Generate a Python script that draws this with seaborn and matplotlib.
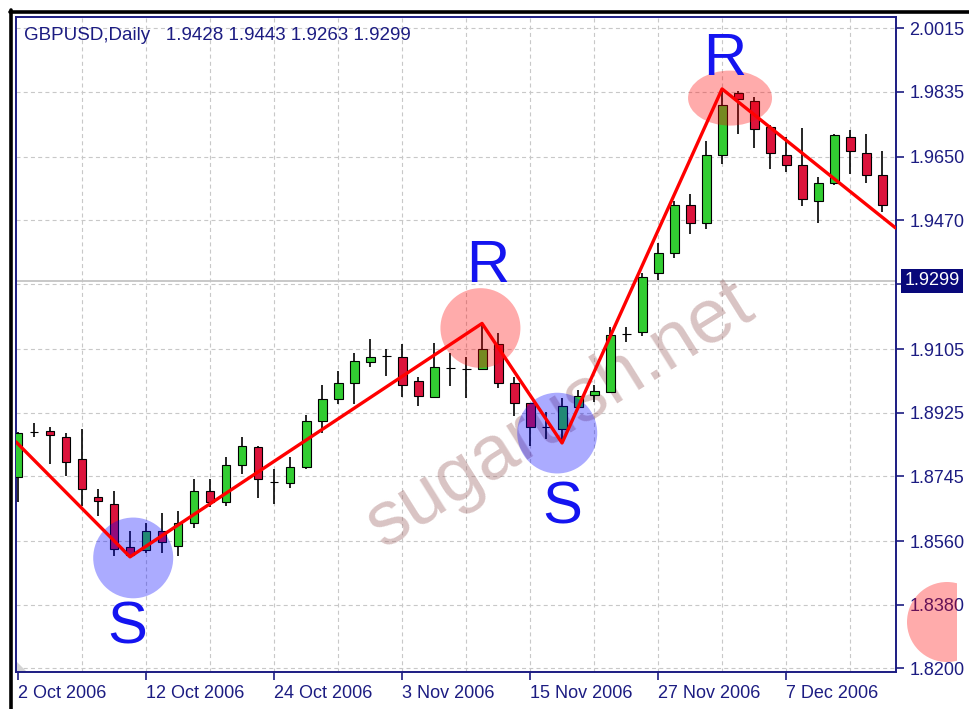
import matplotlib
matplotlib.use("Agg")
import numpy as np
import pandas as pd
import matplotlib.pyplot as plt
import matplotlib.transforms as mtransforms
from matplotlib.patches import Ellipse, Rectangle, Polygon
from matplotlib.lines import Line2D
import seaborn as sns

# --- DATA ---
symbol = "GBPUSD,Daily"
header_ohlc = ["1.9428", "1.9443", "1.9263", "1.9299"]
last_price = 1.9299

date_labels = ["2 Oct 2006", "12 Oct 2006", "24 Oct 2006", "3 Nov 2006",
               "15 Nov 2006", "27 Nov 2006", "7 Dec 2006"]
date_label_bars = [0, 8, 16, 24, 32, 40, 48]
grid_bars = [4, 8, 12, 16, 20, 24, 28, 32, 36, 40, 44, 48, 52]

price_ticks = [1.8200, 1.8380, 1.8560, 1.8745, 1.8925, 1.9105, 1.9290,
               1.9470, 1.9650, 1.9835, 2.0015]
price_labels = ["1.8200", "1.8380", "1.8560", "1.8745", "1.8925", "1.9105", "",
                "1.9470", "1.9650", "1.9835", "2.0015"]

opens = [1.8743, 1.8869, 1.8873, 1.8856, 1.8794, 1.8686, 1.8666, 1.8544, 1.8535, 1.8589,
         1.8547, 1.8612, 1.8703, 1.8672, 1.8777, 1.8828, 1.8727, 1.8726, 1.8771, 1.8901,
         1.8964, 1.9009, 1.9069, 1.9085, 1.9083, 1.9015, 1.8969, 1.9051, 1.9048, 1.9049,
         1.9120, 1.9009, 1.8952, 1.8883, 1.8879, 1.8941, 1.8975, 1.8984, 1.9147, 1.9154,
         1.9321, 1.9378, 1.9514, 1.9463, 1.9656, 1.9832, 1.9809, 1.9735, 1.9656, 1.9627,
         1.9525, 1.9576, 1.9707, 1.9661, 1.9599]
highs = [1.8870, 1.8896, 1.8884, 1.8867, 1.8879, 1.8708, 1.8703, 1.8589, 1.8612, 1.8640,
         1.8646, 1.8737, 1.8737, 1.8799, 1.8856, 1.8830, 1.8765, 1.8799, 1.8918, 1.9003,
         1.9043, 1.9094, 1.9134, 1.9106, 1.9120, 1.9026, 1.9123, 1.9094, 1.9083, 1.9178,
         1.9151, 1.9026, 1.8953, 1.8927, 1.8967, 1.8989, 1.9003, 1.9168, 1.9168, 1.9321,
         1.9406, 1.9525, 1.9545, 1.9695, 1.9843, 1.9837, 1.9820, 1.9741, 1.9707, 1.9732,
         1.9593, 1.9715, 1.9727, 1.9715, 1.9667]
lows = [1.8672, 1.8856, 1.8779, 1.8745, 1.8660, 1.8632, 1.8518, 1.8516, 1.8527, 1.8527,
        1.8518, 1.8598, 1.8657, 1.8660, 1.8751, 1.8683, 1.8666, 1.8711, 1.8765, 1.8867,
        1.8950, 1.8950, 1.9054, 1.9029, 1.8969, 1.8944, 1.8967, 1.9001, 1.8967, 1.9047,
        1.8995, 1.8916, 1.8830, 1.8850, 1.8839, 1.8940, 1.8955, 1.8981, 1.9125, 1.9142,
        1.9301, 1.9364, 1.9432, 1.9446, 1.9630, 1.9715, 1.9676, 1.9616, 1.9608, 1.9511,
        1.9463, 1.9571, 1.9602, 1.9576, 1.9494]
closes = [1.8867, 1.8871, 1.8862, 1.8785, 1.8708, 1.8674, 1.8538, 1.8521, 1.8589, 1.8558,
          1.8612, 1.8703, 1.8672, 1.8777, 1.8830, 1.8737, 1.8729, 1.8771, 1.8901, 1.8964,
          1.9009, 1.9071, 1.9083, 1.9087, 1.9003, 1.8972, 1.9054, 1.9053, 1.9050, 1.9106,
          1.9009, 1.8952, 1.8884, 1.8885, 1.8944, 1.8972, 1.8986, 1.9145, 1.9149, 1.9310,
          1.9378, 1.9514, 1.9463, 1.9656, 1.9797, 1.9815, 1.9729, 1.9661, 1.9627, 1.9531,
          1.9576, 1.9712, 1.9667, 1.9599, 1.9514]

# zigzag (support / resistance swings)
zigzag_bars = [-0.125, 7, 29, 34, 44, 54.84]
zigzag_prices = [1.8842, 1.8516, 1.9178, 1.8839, 1.9843, 1.9449]

# S / R markers
sr_letters = ["S", "R", "S", "R"]
sr_kind = ["support", "resistance", "support", "resistance"]
sr_bars = [7.2, 28.9, 33.7, 44.5]
sr_prices = [1.8513, 1.9165, 1.8867, 1.9817]

watermark = "sugarush.net"

# --- STYLE / LAYOUT ---
W, H = 970, 709
navy = "#1c1c82"
bull, bear = "#32CD32", "#DC143C"
circle_col = {"support": (0, 0, 1, 0.33), "resistance": (1, 0, 0, 0.33)}
circle_size = [(5.0, 0.0229), (5.0, 0.0226), (5.0, 0.0229), (5.25, 0.0156)]
letter_x = [6.84, 29.34, 34.03, 44.19]
letter_y = [1.8269, 1.9296, 1.8612, 1.9883]

sns.set_theme(style="white")
plt.rcParams["font.family"] = ["Liberation Sans", "DejaVu Sans"]

fig = plt.figure(figsize=(W / 100, H / 100), dpi=100, facecolor="white")
ax = fig.add_axes([16 / W, 37 / H, (895.5 - 16) / W, (672 - 16.5) / H])
ax.set_facecolor("white")

df = pd.DataFrame({"open": opens, "high": highs, "low": lows, "close": closes})
df["bar"] = np.arange(len(df))
df["bottom"] = df[["open", "close"]].min(axis=1)
df["height"] = (df["close"] - df["open"]).abs()
df["color"] = np.where(df["height"] < 0.0003, "black",
                       np.where(df["close"] > df["open"], bull, bear))

# grid
dash = (0, (3.6, 2.9))
for b in grid_bars:
    ax.axvline(b, color="#c8c8c8", lw=0.8, ls=dash, zorder=0.5)
for p in price_ticks:
    ax.axhline(p, color="#c8c8c8", lw=0.8, ls=dash, zorder=0.5)
ax.axhline(last_price, color="#c4c4c4", lw=1.3, zorder=0.6)

# watermark
ax.text(33.9, 1.8918, watermark, rotation=32, fontsize=55, color="#a06a6a",
        alpha=0.40, ha="center", va="center", rotation_mode="anchor", zorder=1.5)

# candles
ax.vlines(df["bar"], df["low"], df["high"], color="black", lw=1.2, zorder=2)
ax.bar(df["bar"], df["height"].clip(lower=0.0002), bottom=df["bottom"], width=0.56,
       color=df["color"], edgecolor="black", linewidth=0.8, zorder=3)

# circles
for (b, p, k), (w, h) in zip(zip(sr_bars, sr_prices, sr_kind), circle_size):
    ax.add_patch(Ellipse((b, p), w, h, facecolor=circle_col[k], edgecolor="none", zorder=4))

# zigzag
sns.lineplot(x=zigzag_bars, y=zigzag_prices, sort=False, color="#ff0000",
             linewidth=2.4, ax=ax, zorder=5)

# letters
for s, x, y in zip(sr_letters, letter_x, letter_y):
    ax.text(x, y, s, fontsize=43, color="#1414f0", ha="center", va="baseline", zorder=6)

ax.set_xlim(-0.125, 54.84)
ax.set_ylim(1.81895, 2.00484)
ax.set_xlabel("")
ax.set_ylabel("")

# axes styling
for sp in ax.spines.values():
    sp.set_color(navy)
    sp.set_linewidth(1.4)
ax.yaxis.tick_right()
ax.set_yticks(price_ticks)
ax.set_yticklabels(price_labels)
ax.set_xticks(date_label_bars)
ax.set_xticklabels(date_labels, ha="left")
ax.tick_params(axis="y", right=True, left=False, length=6, width=1.2, color=navy,
               labelcolor=navy, labelsize=13, pad=4)
ax.tick_params(axis="x", bottom=True, length=6, width=1.2, color=navy,
               labelcolor=navy, labelsize=13, pad=3)

# current price box
trans = mtransforms.blended_transform_factory(ax.transAxes, ax.transData)
ax.text(1.0105, last_price, f"{last_price:.4f}", transform=trans, fontsize=13,
        color="white", ha="left", va="center", clip_on=False,
        bbox=dict(boxstyle="square,pad=0.18", facecolor="#08087a", edgecolor="none"))

# little shift marker in the corner
ax.add_patch(Polygon([(0, 0), (11 / 879, 0), (0, 11 / 655)], closed=True,
                     transform=ax.transAxes, facecolor="#d4d4d4", edgecolor="none", zorder=1))

# header
fig.text(24 / W, 1 - 35 / H, symbol + "   " + " ".join(header_ohlc), fontsize=13.5,
         color=navy, ha="left", va="center")

# screenshot frame
fig.add_artist(Line2D([11.5 / W, 11.5 / W], [0, 1 - 10 / H], color="black", lw=2.6,
                      transform=fig.transFigure))
fig.add_artist(Line2D([10 / W, 1], [1 - 11.5 / H, 1 - 11.5 / H], color="black", lw=2.6,
                      transform=fig.transFigure))

# clipped pink circle in the price scale
pink = Ellipse((947 / W, 1 - 622 / H), 80 / W, 80 / H, transform=fig.transFigure,
               facecolor=(1, 0, 0, 0.33), edgecolor="none", zorder=5)
fig.add_artist(pink)
clip = Rectangle((0, 0), 957 / W, 1, transform=fig.transFigure)
pink.set_clip_path(clip)

fig.savefig("out.png", dpi=100, facecolor="white")
